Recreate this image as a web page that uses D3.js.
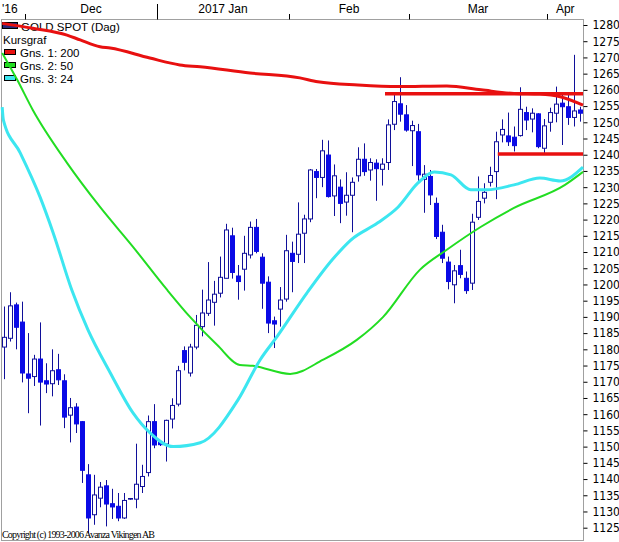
<!DOCTYPE html>
<html>
<head>
<meta charset="utf-8">
<script src="https://cdn.jsdelivr.net/npm/d3@7"></script>
<style>
  body { margin: 0; background: #fff; }
  svg { display: block; }
</style>
</head>
<body>
<svg id="chart"></svg>
<script>
// daily candles, GOLD SPOT, late Nov 2016 -> early Apr 2017
const opens  = [1180.7,1183.4,1193.7,1188.4,1172.4,1171.6,1177.0,1170.3,1169.4,1173.7,
                1170.3,1159.7,1162.2,1157.7,1141.3,1129.0,1134.1,1137.9,1132.4,1131.6,
                1128.0,1133.8,1133.8,1137.7,1142.0,1157.7,1151.4,1150.8,1158.5,1163.1,
                1179.6,1172.7,1180.7,1187.0,1191.1,1194.5,1197.3,1201.9,1215.0,1202.6,
                1204.7,1209.1,1217.6,1208.4,1200.7,1188.8,1192.4,1195.5,1209.6,1209.3,
                1215.8,1220.2,1234.8,1233.0,1239.9,1227.3,1230.0,1225.4,1227.5,1233.5,
                1238.6,1235.3,1237.4,1235.5,1237.6,1249.4,1255.7,1252.3,1247.4,1247.1,
                1232.4,1233.3,1225.0,1216.1,1206.9,1199.9,1205.8,1201.9,1200.4,1220.7,
                1226.6,1231.5,1234.8,1246.1,1245.8,1245.4,1245.9,1253.0,1251.0,1252.6,
                1242.0,1250.0,1252.8,1255.9,1254.8,1251.5,1253.8];
const highs  = [1193.2,1197.6,1194.4,1194.7,1185.0,1178.3,1188.3,1175.7,1180.0,1178.6,
                1172.3,1165.0,1163.4,1157.9,1144.6,1141.3,1139.1,1139.7,1137.0,1135.7,
                1135.7,1134.1,1150.9,1144.4,1159.6,1163.1,1151.8,1158.3,1164.9,1174.9,
                1180.9,1181.7,1190.6,1198.4,1206.9,1201.1,1208.6,1218.7,1217.5,1206.0,
                1215.0,1219.4,1220.2,1209.6,1202.5,1190.1,1199.2,1215.3,1213.2,1225.3,
                1221.5,1235.6,1235.6,1244.6,1244.4,1237.0,1232.4,1234.6,1233.0,1242.3,
                1243.5,1238.9,1238.6,1238.9,1250.9,1258.9,1263.9,1255.3,1250.5,1249.5,
                1236.8,1235.3,1226.8,1218.4,1208.6,1206.0,1210.7,1204.0,1221.8,1233.3,
                1231.2,1236.3,1247.1,1250.9,1253.0,1248.7,1260.8,1254.8,1254.3,1252.8,
                1251.0,1254.5,1261.0,1258.6,1258.6,1270.8,1254.8];
const lows   = [1170.8,1182.4,1180.0,1169.8,1160.3,1168.7,1156.5,1166.5,1165.5,1169.0,
                1155.7,1151.3,1154.2,1138.8,1123.4,1125.9,1131.3,1125.4,1127.7,1127.0,
                1127.7,1133.6,1131.0,1135.7,1140.8,1149.5,1150.2,1145.4,1155.6,1162.4,
                1173.5,1171.6,1180.0,1184.0,1190.3,1187.3,1196.0,1201.9,1201.8,1195.3,
                1198.1,1208.0,1209.6,1192.5,1185.0,1180.4,1187.0,1194.7,1197.6,1206.6,
                1206.6,1219.2,1226.6,1230.0,1226.8,1221.1,1218.9,1221.2,1216.1,1231.7,
                1233.5,1232.0,1225.8,1230.5,1235.3,1247.6,1250.2,1247.1,1236.5,1231.5,
                1222.1,1224.5,1214.0,1206.6,1198.5,1194.2,1201.9,1197.1,1198.3,1219.9,
                1225.0,1230.2,1226.3,1243.8,1242.7,1241.0,1245.6,1247.6,1246.9,1242.0,
                1240.0,1247.1,1250.0,1243.0,1249.2,1248.7,1250.2];
const closes = [1183.7,1193.4,1186.8,1172.7,1171.1,1177.0,1169.9,1169.3,1173.4,1170.6,
                1159.1,1162.0,1157.0,1142.7,1128.0,1135.1,1137.5,1132.3,1131.4,1128.0,
                1133.4,1134.0,1138.4,1140.8,1157.7,1150.5,1150.6,1158.1,1162.7,1173.4,
                1176.0,1180.7,1187.4,1191.2,1195.2,1197.0,1202.2,1216.8,1203.7,1200.9,
                1209.6,1217.6,1210.2,1200.4,1188.1,1187.8,1195.2,1210.4,1207.1,1215.5,
                1220.2,1235.3,1233.0,1241.2,1227.1,1233.5,1225.0,1227.5,1231.5,1238.6,
                1234.8,1237.6,1235.7,1237.1,1249.2,1256.4,1252.5,1247.6,1249.0,1233.8,
                1234.0,1227.6,1214.8,1208.1,1200.9,1204.2,1203.1,1198.1,1219.2,1225.6,
                1228.4,1233.6,1244.0,1247.8,1244.0,1242.8,1254.0,1250.7,1252.8,1242.5,
                1248.9,1253.0,1255.6,1254.8,1251.5,1253.5,1252.8];

// moving averages: [candle index, price]
const ma200 = [[-0.3,1280.5],[4.8,1279.0],[10.5,1276.9],[12.7,1275.4],[16,1273.3],[17.7,1272.9],
               [24.3,1269.8],[29.3,1267.7],[32.7,1267.1],[41,1265.2],[49.3,1263.7],[52.3,1262.5],
               [59,1261.5],[65.7,1261.0],[73.8,1261.2],[79.5,1260.0],[85,1258.9],[89.3,1258.7],
               [92.7,1257.9],[96.5,1255.3]];
const ma50  = [[-0.3,1271.4],[2.2,1263.1],[4.8,1253.8],[10.5,1237.5],[16,1223.9],[21.5,1211.6],
               [27.2,1198.3],[31,1190.0],[35.5,1181.4],[39.3,1175.2],[41.5,1174.9],[47.7,1172.4],
               [53.2,1176.8],[58.8,1182.9],[63.2,1190.0],[69.3,1204.5],[73.8,1210.7],[79.5,1217.8],
               [85,1223.6],[93.5,1230.7],[96.5,1234.7]];
const ma24  = [[-0.3,1254.7],[-0.1,1250.7],[2.7,1240.6],[6,1227.0],[8.2,1215.9],[11.3,1198.3],
               [14,1186.0],[17.7,1172.8],[21.5,1160.4],[24.3,1154.3],[28.2,1150.0],[32.7,1151.2],
               [39,1164.4],[42.7,1176.8],[45.5,1183.9],[50.5,1197.4],[54.7,1207.6],[57.8,1213.7],
               [62.3,1219.0],[65.7,1223.9],[69,1231.3],[71.7,1234.7],[74.5,1233.8],[77.8,1229.2],
               [80.5,1229.2],[85,1230.7],[89.3,1232.8],[92.7,1231.9],[96.5,1236.2]];

// hand drawn support / resistance lines: [from index, to index, price]
const levels = [[63.5,96.5,1258.8],[82.3,96.5,1240.2]];

// months on the top axis, with the index of their first candle
const monthLabels = ["'16", 'Dec', '2017 Jan', 'Feb', 'Mar', 'Apr'];
const monthStart  = [0, 4, 26, 48, 68, 91];

const legendNames  = ['Gns. 1: 200', 'Gns. 2: 50', 'Gns. 3: 24'];
const legendColors = ['#e81010', '#22dd22', '#3ce6f0'];

const W = 619, H = 542;
const plot = { left: 1.5, right: 583.5, top: 19.5, bottom: 540.5 };

const svg = d3.select('#chart').attr('width', W).attr('height', H);

const x = d3.scaleLinear().domain([-1 / 3, 96.5]).range([2, 583]);
const y = d3.scaleLinear().domain([1125, 1280]).range([527.7, 25]);

// frame
svg.append('rect')
    .attr('x', plot.left).attr('y', plot.top)
    .attr('width', plot.right - plot.left).attr('height', plot.bottom - plot.top)
    .attr('fill', '#fff').attr('stroke', '#a0a0a0');

// right price axis
const yAxis = svg.append('g')
    .attr('transform', `translate(${plot.right},0)`)
    .call(d3.axisRight(y).tickValues(d3.range(1125, 1281, 5))
        .tickFormat(d3.format('d')).tickSize(4).tickPadding(5));
yAxis.select('.domain').remove();
yAxis.selectAll('.tick line').attr('stroke', '#000');
yAxis.selectAll('.tick text')
    .attr('fill', '#000')
    .attr('font-family', "'Liberation Sans Narrow','DejaVu Sans Condensed',sans-serif")
    .attr('font-size', '12px');

// top month axis
const monthX = monthStart.map(i => x(i - 0.5));
monthStart.forEach((s, k) => {
    if (k === 0) return;
    const big = monthLabels[k].startsWith('2017');
    svg.append('line')
        .attr('x1', Math.round(monthX[k]) + 0.5).attr('x2', Math.round(monthX[k]) + 0.5)
        .attr('y1', big ? 4 : 14).attr('y2', plot.top)
        .attr('stroke', '#000');
});
monthLabels.forEach((lab, k) => {
    const x0 = k === 0 ? 2 : monthX[k];
    const x1 = k + 1 < monthX.length ? monthX[k + 1] : plot.right;
    svg.append('text')
        .attr('x', k === 0 ? 2 : (x0 + x1) / 2)
        .attr('y', 13)
        .attr('text-anchor', k === 0 ? 'start' : 'middle')
        .attr('font-family', "'Liberation Sans','Arial',sans-serif")
        .attr('font-size', '12px')
        .attr('fill', '#000')
        .text(lab);
});

// legend (lines are drawn over it, like the original)
const lg = svg.append('g').attr('font-family', "'Liberation Sans','Arial',sans-serif")
    .attr('font-size', '11.5px').attr('fill', '#000');
lg.append('rect').attr('x', 2.5).attr('y', 22.5).attr('width', 15).attr('height', 6)
    .attr('fill', '#2a2a7a').attr('stroke', '#000');
lg.append('text').attr('x', 21).attr('y', 31).text('GOLD SPOT (Dag)');
lg.append('text').attr('x', 3).attr('y', 44).text('Kursgraf');
legendNames.forEach((nm, k) => {
    const yy = 49 + k * 13;
    lg.append('rect').attr('x', 4.5).attr('y', yy + 0.5).attr('width', 11).attr('height', 5)
        .attr('fill', legendColors[k]).attr('stroke', '#000');
    lg.append('text').attr('x', 20).attr('y', yy + 8).text(nm);
});

// candles
const candles = svg.append('g');
opens.forEach((o, i) => {
    const c = closes[i];
    const cx = Math.round(x(i)) + 0.5;
    const up = c >= o;
    candles.append('line')
        .attr('x1', cx).attr('x2', cx)
        .attr('y1', y(highs[i])).attr('y2', y(lows[i]))
        .attr('stroke', '#10109a').attr('stroke-width', 1);
    const top = y(Math.max(o, c)), bot = y(Math.min(o, c));
    candles.append('rect')
        .attr('x', cx - 2).attr('y', top)
        .attr('width', 4).attr('height', Math.max(0.5, bot - top))
        .attr('fill', up ? '#fff' : '#0a0ae6')
        .attr('stroke', up ? '#10109a' : '#0a0ae6')
        .attr('stroke-width', 1);
});

// moving averages
const line = d3.line().x(d => x(d[0])).y(d => y(d[1])).curve(d3.curveMonotoneX);
svg.append('path').datum(ma50).attr('d', line)
    .attr('fill', 'none').attr('stroke', legendColors[1]).attr('stroke-width', 2);
svg.append('path').datum(ma24).attr('d', line)
    .attr('fill', 'none').attr('stroke', legendColors[2]).attr('stroke-width', 3);
svg.append('path').datum(ma200).attr('d', line)
    .attr('fill', 'none').attr('stroke', legendColors[0]).attr('stroke-width', 3);

// support / resistance
levels.forEach(l => {
    svg.append('line')
        .attr('x1', x(l[0])).attr('x2', x(l[1]))
        .attr('y1', y(l[2])).attr('y2', y(l[2]))
        .attr('stroke', legendColors[0]).attr('stroke-width', 3.5);
});

svg.append('text')
    .attr('x', 2).attr('y', 538)
    .attr('font-family', "'Liberation Serif','Times New Roman',serif")
    .attr('font-size', '10px')
    .attr('textLength', 153)
    .attr('fill', '#000')
    .text('Copyright (c) 1993-2006 Avanza Vikingen AB');
</script>
</body>
</html>
